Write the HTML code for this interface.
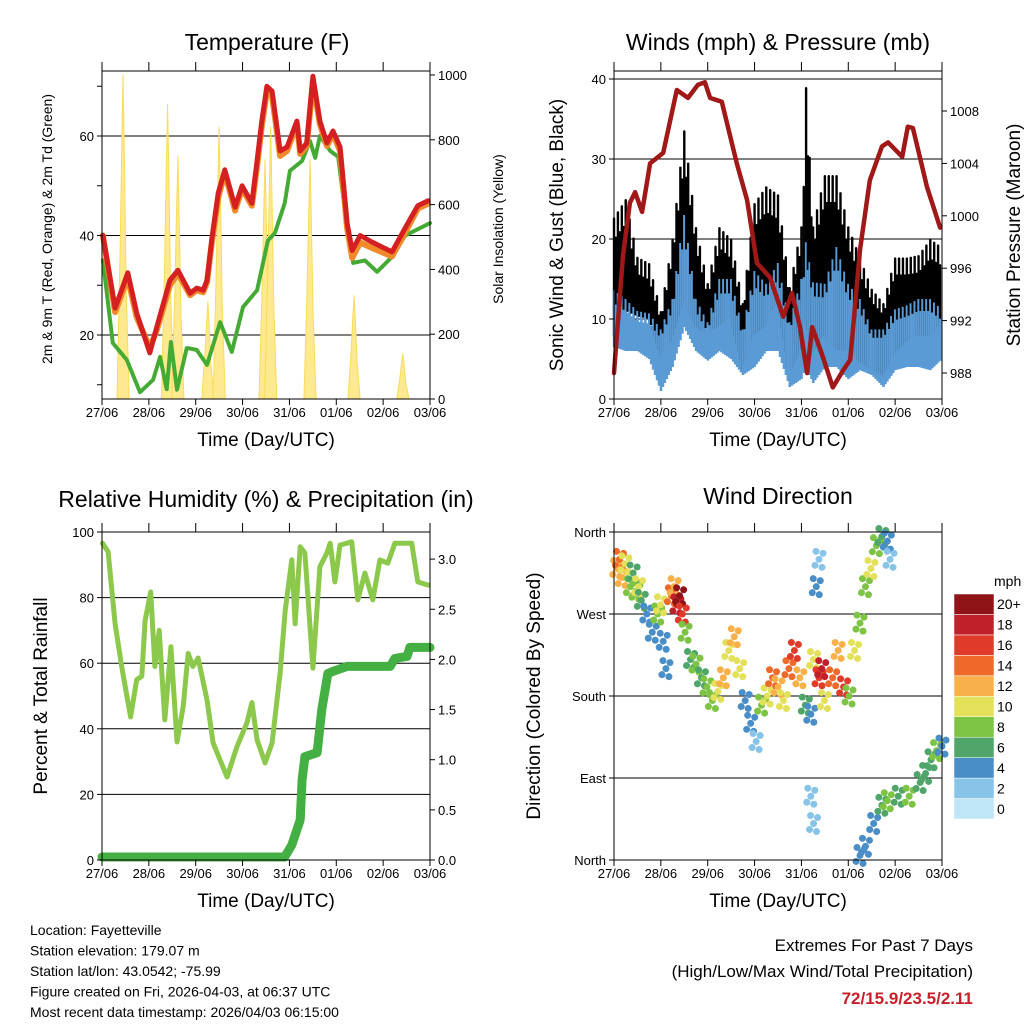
<!DOCTYPE html>
<html><head><meta charset="utf-8"><style>
body{margin:0;background:#fff;}
svg{font-family:"Liberation Sans",sans-serif;}
</style></head><body>
<svg id="c" width="1024" height="1024" xmlns="http://www.w3.org/2000/svg"></svg>
<script>
const xTicks=['27/06','28/06','29/06','30/06','31/06','01/06','02/06','03/06'];
// Temperature panel data (days since 27/06, value)
const tDays=[0.02,0.28,0.55,0.74,1.02,1.17,1.45,1.62,1.88,2.02,2.16,2.24,2.35,2.48,2.62,2.84,2.99,3.2,3.31,3.41,3.52,3.63,3.8,3.95,4.16,4.23,4.37,4.5,4.65,4.8,4.93,5.08,5.23,5.34,5.51,5.76,6.19,6.47,6.74,6.96];
const tempRed=[40,25.4,32.5,24.4,16.4,21.6,31,33,28.4,29.4,29,31,39.7,48.5,53.2,45.7,50,46.5,55,63,70,69,57,57.8,63,57,58.6,72,63,58.6,61,57.8,42.5,37,40,38.7,36.7,41.5,46,47];
const tempOrange=[40,24.6,31.5,23.6,17.4,21,30,32.4,28,29,28.6,30.6,39,47.6,52.6,45,49.4,46,54,62,69,68,56,57,62.4,56.4,58,71,62.4,58,60.4,57,41.5,35.5,38.6,37.5,35.8,40.6,45.4,46.4];
const tdDays=[0.02,0.23,0.53,0.81,1.09,1.24,1.38,1.47,1.6,1.81,2.02,2.24,2.52,2.77,3.01,3.31,3.54,3.69,3.9,4.01,4.27,4.44,4.55,4.65,4.87,5.04,5.19,5.36,5.61,5.87,6.19,6.47,7.0];
const dewGreen=[35,18.4,15,8.5,11,15.6,9,18.6,9,17.4,17,14,22.6,16.6,25.6,29,39,40.5,46.5,53,55,59,55.6,60,57,55.8,44.5,34.5,35,32.7,35.7,40,42.5];
const solarDay=[0.45,1.4,1.62,2.26,2.5,3.48,3.6,4.44,5.38,6.42];
const solarPeak=[1000,910,750,300,840,740,840,740,320,140];
// Winds panel data (days)
const wDays=[0,0.25,0.5,0.75,1.0,1.25,1.5,1.75,2.0,2.25,2.5,2.75,3.0,3.25,3.5,3.75,4.0,4.1,4.25,4.5,4.75,5.0,5.25,5.5,5.75,6.0,6.25,6.5,6.75,7.0];
const gustMax=[22.7,25,17.8,17,11,20,33.6,21.5,14.5,21.5,20,12,24.5,26.6,25.6,14,21.6,39,21.6,28,28,21.6,17.7,13.8,12,17.7,17.7,18,20,19];
const gustMin=[7.8,11,10.3,10,5.3,7,12,9,8,9,10,3.6,7.8,9,12,2.5,6,9.5,5.3,7.8,6,6,4.6,3.6,2.8,5.3,7,7.8,7.8,9];
const windMax=[13.6,12.5,11,10.7,8.7,12.5,23,12.5,9.6,15,15,8.7,16,14.4,17,9.6,15,19.6,14.6,14.4,19,14.4,12.5,8.7,8.7,11.2,11.7,12.5,12.5,11.2];
const windMin=[6.5,6,6,5,1,4,9,6,4.8,6,5,3,4,6,6,1.5,2.5,4,2,4,4,2.5,3.6,3,1.5,3.6,4,4,3.6,5];
const pDays=[0,0.19,0.34,0.45,0.6,0.77,1.05,1.34,1.58,1.79,1.94,2.05,2.3,2.62,2.84,3.05,3.33,3.61,3.8,3.97,4.12,4.23,4.46,4.67,4.89,5.04,5.25,5.46,5.72,5.85,6.15,6.27,6.38,6.68,6.96];
const pressure=[988,996.9,1001,1001.8,1000.3,1004,1004.8,1009.6,1009,1010,1010.2,1009,1008.7,1004,1001.2,996.4,995.3,992.3,994.1,991.5,988,991.5,989.2,986.9,988.2,989,997.4,1002.7,1005.3,1005.6,1004.5,1006.8,1006.7,1002.2,999.1];
// RH / precip data (days)
const rhDays=[0.01,0.13,0.28,0.42,0.61,0.74,0.85,0.92,1.04,1.13,1.22,1.34,1.47,1.6,1.73,1.84,1.94,2.05,2.24,2.37,2.67,2.88,3.09,3.2,3.31,3.48,3.63,3.8,3.91,4.05,4.12,4.23,4.33,4.5,4.65,4.8,4.87,4.97,5.08,5.33,5.46,5.61,5.78,5.93,6.1,6.25,6.61,6.74,6.96];
const rh=[96.6,94,72,59,43.6,55,56,73,81.7,59,70,42.7,65,36,46.6,63,59,61.6,48.8,35.7,25.3,34.5,41.7,48,36.6,29.6,35.7,57,76,91.5,72,95.5,93.6,58.5,89.4,93.6,96.6,84.8,96,97,79.3,87.5,79.3,91.5,90.5,96.6,96.6,84.8,83.8];
const prDays=[0,3.9,4.05,4.23,4.27,4.33,4.59,4.69,4.82,4.93,5.23,6.15,6.25,6.51,6.57,7.0];
const precip=[0.03,0.03,0.15,0.4,0.8,1.03,1.07,1.5,1.86,1.88,1.93,1.93,2.01,2.03,2.12,2.12];
// Wind direction data (0..6 span of plot width)
const dirDay=[0.05,0.1,0.15,0.2,0.3,0.35,0.4,0.45,0.5,0.6,0.7,0.8,0.85,0.9,0.95,1.05,1.1,1.15,1.2,1.25,1.3,1.4,1.5,1.6,1.7,1.8,1.9,2.0,2.1,2.2,2.3,2.4,2.5,2.6,2.7,2.8,2.9,3.0,3.1,3.2,3.3,3.4,3.5,3.6,3.65,3.75,3.8,3.85,3.7,3.75,3.65,3.6,4.0,4.1,4.2,4.3,4.4,4.5,4.6,4.7,4.8,4.9,5.0,5.05,4.5,4.6,4.75,4.9,5.0,5.2,5.4,5.6,5.7,5.8,5.9,6.0];
const dirDeg=[320,330,310,325,300,315,295,300,285,270,250,270,280,240,210,290,300,280,290,270,250,220,215,200,190,175,185,200,230,245,210,175,150,130,170,180,200,190,175,210,230,200,170,160,220,200,210,175,300,330,40,70,200,230,190,180,230,260,300,320,345,355,350,330,5,15,40,60,65,70,70,85,95,110,120,125];
const dirSpd=[12,14,12,10,8,6,8,10,6,4,4,8,10,4,4,14,12,18,20,16,8,6,8,6,8,8,10,12,10,12,10,4,4,2,8,10,14,12,10,14,16,12,6,4,10,16,18,10,4,2,2,2,14,12,16,8,10,8,8,10,8,6,4,2,4,4,4,6,8,6,8,6,6,6,8,4];
const cbColors=['#bfe6f7','#88c4e8','#4a8ec8','#4fa56a','#7ec444','#e3e05a','#f8b04a','#ef6a2a','#e03a2a','#c0202a','#8e1418'];
const cbLabels=['0','2','4','6','8','10','12','14','16','18','20+'];

const S=document.getElementById('c');const NS='http://www.w3.org/2000/svg';
function mk(t,a,p){const e=document.createElementNS(NS,t);for(const k in a)e.setAttribute(k,a[k]);(p||S).appendChild(e);return e;}
function txt(x,y,s,size,anchor,extra){const e=mk('text',Object.assign({x:x,y:y,'font-size':size,'text-anchor':anchor||'middle',fill:'#000'},extra||{}));e.textContent=s;return e;}
function poly(xs,ys,fx,fy,col,w){let d='';xs.forEach((v,i)=>{d+=(i?'L':'M')+fx(v).toFixed(1)+','+fy(ys[i]).toFixed(1);});return mk('path',{d:d,fill:'none',stroke:col,'stroke-width':w,'stroke-linejoin':'round','stroke-linecap':'round'});}
function frame(x0,y0,x1,y1,name){const g=mk('g',{});
 mk('rect',{x:x0,y:y0,width:x1-x0,height:y1-y0,fill:'none',stroke:'#000','stroke-width':1},g);
 xTicks.forEach((t,i)=>{const x=x0+i*(x1-x0)/7;mk('line',{x1:x,y1:y1,x2:x,y2:y1+6,stroke:'#000'},g);mk('line',{x1:x,y1:y0,x2:x,y2:y0-9,stroke:'#000'},g);const e=txt(x,y1+18,t,13);});
 const xt=txt((x0+x1)/2,y1+47,'Time (Day/UTC)',19);return g;}
function hgrid(x0,x1,y){mk('line',{x1:x0,y1:y,x2:x1,y2:y,stroke:'#000','stroke-width':1});}
function ytick(x,y,lab,side){mk('line',{x1:x,y1:y,x2:x+(side<0?-5:5),y2:y,stroke:'#000'});if(lab==='')return;const e=txt(x+(side<0?-8:8),y+5,lab,13,side<0?'end':'start');}
function title(x,y,s,sz){const e=txt(x,y,s,sz||23);}
function vtitle(x,y,s,sz){const e=txt(0,0,s,sz,'middle',{transform:`translate(${x},${y}) rotate(-90)`});}

// ---------- Panel 1 Temperature
{const X0=102,X1=430,Y0=71,Y1=399;const fx=t=>X0+t*(X1-X0)/7;const fy=v=>335-(v-20)*4.975;const fs=v=>399-v*0.324;
 title(267,50,'Temperature (F)');
 [20,40,60].forEach(v=>hgrid(X0,X1,fy(v)));
 solarDay.forEach((d,i)=>{const w=0.13;const p=mk('path',{d:`M${fx(d-w)},${fs(0)} L${fx(d-w/2)},${fs(solarPeak[i]*0.45)} L${fx(d-w/5)},${fs(solarPeak[i]*0.8)} L${fx(d)},${fs(solarPeak[i])} L${fx(d+w/4)},${fs(solarPeak[i]*0.7)} L${fx(d+w/2)},${fs(solarPeak[i]*0.35)} L${fx(d+w)},${fs(0)} Z`,fill:'#fde98f',stroke:'#f9dc5a','stroke-width':1});});
 let e=poly(tdDays,dewGreen,fx,fy,'#44aa33',4);e.setAttribute('stroke-dasharray','3 1.5');
 e=poly(tDays,tempOrange,fx,fy,'#f08a2a',6);
 e=poly(tDays,tempRed,fx,fy,'#d42020',5);
 frame(X0,Y0,X1,Y1,'temperature-plot');
 [10,20,30,40,50,60,70].forEach(v=>ytick(X0,fy(v),v%20===0?v:'',-1));
 [0,200,400,600,800,1000].forEach(v=>ytick(X1,fs(v),v,1));
 vtitle(52,229,'2m & 9m T (Red, Orange) & 2m Td (Green)',14);vtitle(503,229,'Solar Insolation (Yellow)',14);}

// ---------- Panel 2 Winds
{const X0=614,X1=942,Y0=71,Y1=399;const fd=t=>X0+t*(X1-X0)/7;const fy=v=>399-v*8;const fp=p=>373-(p-988)*13.1;
 title(778,50,'Winds (mph) & Pressure (mb)');
 [10,20,30,40].forEach(v=>hgrid(X0,X1,fy(v)));
 const n=wDays.length;for(let i=0;i<n-1;i++){const K=Math.max(2,Math.round((wDays[i+1]-wDays[i])*24));const step=(wDays[i+1]-wDays[i])/K;for(let k=0;k<K;k++){const t=wDays[i]+k*step;const f=k/K;const j=(k%2)?0.88:1;
   const gm=(gustMax[i]+(gustMax[i+1]-gustMax[i])*f)*j,gn=gustMin[i]+(gustMin[i+1]-gustMin[i])*f,wm=(windMax[i]+(windMax[i+1]-windMax[i])*f)*j,wn=windMin[i]+(windMin[i+1]-windMin[i])*f;
   let r=mk('rect',{x:fd(t)-1.2,y:fy(gm),width:2.4,height:fy(gn)-fy(gm),fill:'#000',rx:1.2});
   r=mk('rect',{x:fd(t)-1.2,y:fy(wm),width:2.6,height:fy(wn)-fy(wm),fill:'#5b9bd5'});}}
 const e=poly(pDays,pressure,fd,fp,'#a01818',4.5);
 frame(X0,Y0,X1,Y1,'winds-plot');
 [0,10,20,30,40].forEach(v=>ytick(X0,fy(v),v,-1));
 [988,992,996,1000,1004,1008].forEach(v=>ytick(X1,fp(v),v,1));
 vtitle(563,235,'Sonic Wind & Gust (Blue, Black)',19);vtitle(1020,235,'Station Pressure (Maroon)',19);}

// ---------- Panel 3 RH
{const X0=102,X1=430,Y0=532,Y1=860;const fx=t=>X0+t*(X1-X0)/7;const fy=v=>860-v*3.28;const fr=v=>860-v*100.3;
 title(266,507,'Relative Humidity (%) & Precipitation (in)');
 [20,40,60,80].forEach(v=>hgrid(X0,X1,fy(v)));
 let e=poly(rhDays,rh,fx,fy,'#8cc84b',5);
 e=poly(prDays,precip,fx,fr,'#44b044',9);
 frame(X0,Y0,X1,Y1,'humidity-plot');
 [0,20,40,60,80,100].forEach(v=>ytick(X0,fy(v),v,-1));
 [0,0.5,1,1.5,2,2.5,3].forEach(v=>ytick(X1,fr(v),v.toFixed(1),1));
 vtitle(47,696,'Percent & Total Rainfall',19);}

// ---------- Panel 4 Wind direction
{const X0=614,X1=942,Y0=532,Y1=860;const fx=t=>X0+t*(X1-X0)/6;const fy=d=>860-d*(328/360);
 title(778,504,'Wind Direction');
 [90,180,270].forEach(v=>hgrid(X0,X1,fy(v)));
 const offs=[[0,0],[-4,6],[4,-6],[-3,-8],[3,8]];
 dirDay.forEach((d,i)=>{const ci=Math.min(10,Math.round(dirSpd[i]/2));const g=mk('g',{});
   offs.forEach(o=>mk('circle',{cx:fx(d)+o[0],cy:fy(dirDeg[i])+o[1],r:3.5,fill:cbColors[ci]},g));});
 frame(X0,Y0,X1,Y1,'direction-plot');
 [['North',0],['East',90],['South',180],['West',270],['North',360]].forEach(([l,v])=>ytick(X0,fy(v),l,-1));
 vtitle(540,696,'Direction (Colored By Speed)',19);
 const lg=txt(994,586,'mph',14,'start');
 const bh=(819-594)/11;cbColors.forEach((c,i)=>{const y=819-(i+1)*bh;const r=mk('rect',{x:954,y:y,width:40,height:bh,fill:c,stroke:'#fff','stroke-width':0.5});
   const t=txt(997,y+bh/2+5,cbLabels[i],14,'start');});}

// ---------- Footer text
['Location: Fayetteville','Station elevation: 179.07 m','Station lat/lon: 43.0542; -75.99','Figure created on Fri, 2026-04-03, at 06:37 UTC','Most recent data timestamp: 2026/04/03 06:15:00'].forEach((s,i)=>{const e=txt(30,935+i*20.5,s,14,'start');});
let f=txt(973,951,'Extremes For Past 7 Days',17,'end');
f=txt(973,977,'(High/Low/Max Wind/Total Precipitation)',17,'end');
f=txt(973,1004,'72/15.9/23.5/2.11',17,'end',{fill:'#c8202a','font-weight':'bold'});
</script>
</body></html>
